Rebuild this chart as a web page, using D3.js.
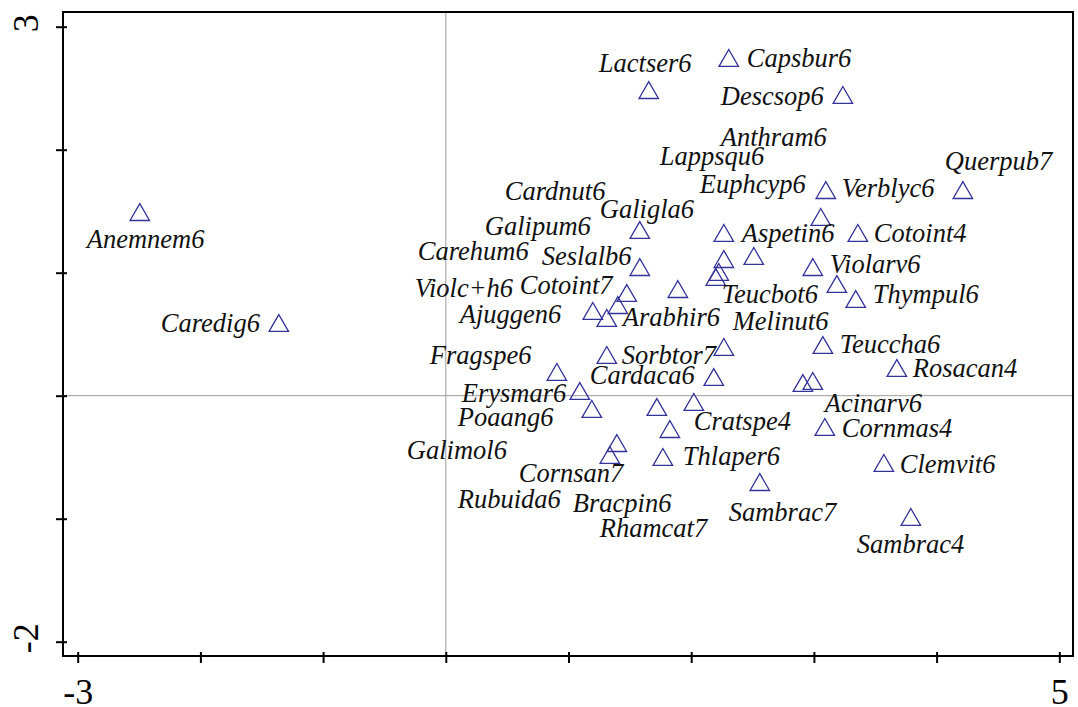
<!DOCTYPE html>
<html>
<head>
<meta charset="utf-8">
<script src="https://cdn.jsdelivr.net/npm/d3@7"></script>
<style>
  body { margin: 0; background: #fff; }
  svg { display: block; }
</style>
</head>
<body>
<div id="chart"></div>
<script>
// species scores (axis 1 / axis 2)
const species = ["Anemnem6", "Caredig6", "Lactser6", "Capsbur6", "Descsop6", "Querpub7",
  "Verblyc6", "Euphcyp6", "Cotoint4", "Aspetin6", "Anthram6", "Violarv6", "Teucbot6",
  "Thympul6", "Galigla6", "Seslalb6", "Lappsqu6", "Cardnut6", "Galipum6", "Carehum6",
  "Cotoint7", "Violc+h6", "Ajuggen6", "Arabhir6", "Sorbtor7", "Melinut6", "Cardaca6",
  "Fragspe6", "Erysmar6", "Poaang6", "Rubuida6", "Cratspe4", "Bracpin6", "Cornsan7",
  "Galimol6", "Thlaper6", "Teuccha6", "Rosacan4", "Acinarv6", "Rhamcat7", "Cornmas4",
  "Clemvit6", "Sambrac7", "Sambrac4"];
const axis1 = [-2.494, -1.361, 1.654, 2.306, 3.236, 4.214,
  3.097, 3.056, 3.358, 2.266, 2.510, 2.991, 3.187,
  3.341, 1.581, 1.581, 2.266, 2.225, 2.200, 1.891,
  1.475, 1.402, 1.198, 1.312, 1.312, 2.266, 2.184,
  0.905, 1.092, 1.190, 1.720, 2.021, 1.826, 1.394,
  1.337, 1.769, 3.073, 3.676, 2.910, 2.991, 3.089,
  3.570, 2.559, 3.790];
const axis2 = [1.493, 0.591, 2.485, 2.746, 2.445, 1.672,
  1.672, 1.453, 1.323, 1.323, 1.136, 1.046, 0.908,
  0.786, 1.347, 1.046, 1.111, 1.006, 0.965, 0.867,
  0.835, 0.737, 0.689, 0.632, 0.331, 0.396, 0.152,
  0.193, 0.038, -0.108, -0.092, -0.051, -0.271, -0.385,
  -0.482, -0.498, 0.412, 0.225, 0.103, 0.120, -0.254,
  -0.547, -0.702, -0.986];
// label anchors (start of text, baseline) in axis units, as placed in the original
const labelX = [-2.926, -2.323, 1.247, 2.453, 2.241, 4.067,
  3.227, 2.070, 3.488, 2.412, 2.241, 3.130, 2.249,
  3.480, 1.255, 0.782, 1.744, 0.481, 0.318, -0.228,
  0.603, -0.253, 0.114, 1.443, 1.434, 2.339, 1.174,
  -0.130, 0.130, 0.098, 0.098, 2.021, 1.035, 0.595,
  -0.318, 1.932, 3.211, 3.806, 3.089, 1.255, 3.227,
  3.700, 2.306, 3.350];
const labelY = [1.201, 0.518, 2.632, 2.672, 2.363, 1.835,
  1.615, 1.648, 1.250, 1.250, 2.030, 0.998, 0.754,
  0.754, 1.445, 1.063, 1.876, 1.591, 1.307, 1.103,
  0.827, 0.802, 0.591, 0.567, 0.258, 0.534, 0.095,
  0.258, -0.051, -0.246, -0.913, -0.279, -0.946, -0.702,
  -0.515, -0.563, 0.347, 0.152, -0.133, -1.149, -0.336,
  -0.628, -1.019, -1.279];

const xTicks = [-3, -2, -1, 0, 1, 2, 3, 4, 5];
const yTicks = [-2, -1, 0, 1, 2, 3];
const xTickLabels = ["-3", "", "", "", "", "", "", "", "5"];
const yTickLabels = ["-2", "", "", "", "", "3"];

const width = 1078, height = 707;
const frame = { left: 63, top: 12, right: 1073, bottom: 656 };
const serif = '"Liberation Serif", serif';

const x = d3.scaleLinear().domain([-3, 5]).range([77.7, 1059.3]);
const y = d3.scaleLinear().domain([-2, 3]).range([641.7, 26.7]);

const svg = d3.select("#chart").append("svg")
  .attr("width", width)
  .attr("height", height);

svg.append("rect")
  .attr("width", width).attr("height", height)
  .attr("fill", "#fff");

// zero lines
svg.append("line")
  .attr("x1", x(0)).attr("x2", x(0))
  .attr("y1", frame.top).attr("y2", frame.bottom)
  .attr("stroke", "#9a9a9a").attr("stroke-width", 1);
svg.append("line")
  .attr("x1", frame.left).attr("x2", frame.right)
  .attr("y1", y(0)).attr("y2", y(0))
  .attr("stroke", "#9a9a9a").attr("stroke-width", 1);

// frame
svg.append("rect")
  .attr("x", frame.left).attr("y", frame.top)
  .attr("width", frame.right - frame.left)
  .attr("height", frame.bottom - frame.top)
  .attr("fill", "none")
  .attr("stroke", "#000")
  .attr("stroke-width", 2);

// x axis
const xAxis = svg.append("g")
  .attr("transform", `translate(0,${frame.bottom})`)
  .call(d3.axisBottom(x).tickValues(xTicks).tickSize(7)
    .tickFormat((d, i) => xTickLabels[i]));
xAxis.select(".domain").remove();
xAxis.selectAll(".tick line")
  .attr("y1", -4).attr("stroke", "#000").attr("stroke-width", 2);
xAxis.selectAll(".tick text")
  .attr("y", 48).attr("dy", 0)
  .style("font-family", serif)
  .attr("font-size", 36)
  .attr("fill", "#000");

// y axis
const yAxis = svg.append("g")
  .attr("transform", `translate(${frame.left},0)`)
  .call(d3.axisLeft(y).tickValues(yTicks).tickSize(7).tickFormat(""));
yAxis.select(".domain").remove();
yAxis.selectAll(".tick line")
  .attr("x1", 4).attr("stroke", "#000").attr("stroke-width", 2);

yAxis.selectAll(".tick")
  .append("text")
  .text((d, i) => yTickLabels[i])
  .attr("transform", "translate(-25,-4) rotate(-90)")
  .attr("text-anchor", "middle")
  .style("font-family", serif)
  .attr("font-size", 36)
  .attr("fill", "#000");

// open triangles
const side = 19.5;
const h = side * Math.sqrt(3) / 2;
const tri = `M0,${-h / 2}L${side / 2},${h / 2}L${-side / 2},${h / 2}Z`;

svg.append("g")
  .selectAll("path")
  .data(species)
  .join("path")
  .attr("d", tri)
  .attr("transform", (d, i) => `translate(${x(axis1[i])},${y(axis2[i])})`)
  .attr("fill", "none")
  .attr("stroke", "#333399")
  .attr("stroke-width", 1.3);

// species labels
svg.append("g")
  .selectAll("text")
  .data(species)
  .join("text")
  .attr("x", (d, i) => x(labelX[i]))
  .attr("y", (d, i) => y(labelY[i]))
  .style("font-family", serif)
  .style("font-style", "italic")
  .attr("font-size", 26.5)
  .attr("fill", "#111")
  .text(d => d);
</script>
</body>
</html>
